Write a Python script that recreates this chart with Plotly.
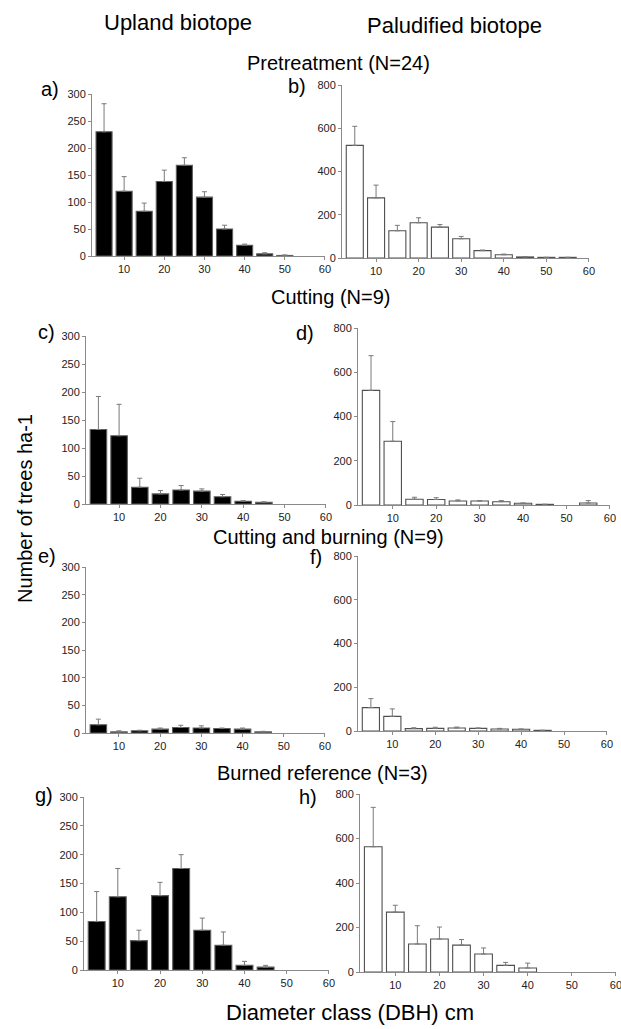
import plotly.graph_objects as go

W, H = 621, 1029

# ---------------- data ----------------
dbh_classes = [5, 10, 15, 20, 25, 30, 35, 40, 45, 50, 55]

upland_pre = [230, 120, 83, 138, 168, 109, 50, 20, 4, 1, 0]
upland_pre_se = [52, 27, 15, 21, 14, 10, 7, 2, 2, 1, 0]
palud_pre = [521, 278, 126, 163, 143, 89, 34, 15, 5, 3, 3]
palud_pre_se = [88, 59, 25, 23, 12, 11, 3, 3, 1, 0, 0]

upland_cut = [133, 122, 30, 18, 25, 23, 13, 5, 3, 0, 0]
upland_cut_se = [59, 56, 16, 6, 8, 4, 4, 1, 1, 0, 0]
palud_cut = [518, 288, 26, 25, 18, 18, 15, 8, 3, 0, 9]
palud_cut_se = [157, 89, 9, 8, 5, 2, 5, 1, 0, 0, 11]

upland_cutburn = [15, 2, 4, 7, 10, 9, 8, 7, 2, 0, 0]
upland_cutburn_se = [10, 2, 1, 2, 4, 4, 1, 2, 1, 0, 0]
palud_cutburn = [107, 67, 11, 12, 14, 12, 9, 8, 3, 0, 0]
palud_cutburn_se = [41, 34, 4, 5, 4, 2, 3, 1, 0, 0, 0]

upland_ref = [84, 127, 51, 129, 176, 69, 43, 8, 5, 0, 0]
upland_ref_se = [52, 49, 18, 23, 24, 21, 23, 7, 3, 0, 0]
palud_ref = [563, 269, 126, 148, 121, 81, 30, 18, 0, 0, 0]
palud_ref_se = [177, 31, 82, 54, 25, 27, 13, 22, 0, 0, 0]

x_ticks = [10, 20, 30, 40, 50, 60]
upland_yticks = [0, 50, 100, 150, 200, 250, 300]
palud_yticks = [0, 200, 400, 600, 800]

# panels: (values, se, upland?, x-pixel domain, y-pixel domain, letter, letter pos)
panels = [
    (upland_pre, upland_pre_se, True, (92, 325), (94, 256), "a)", (50, 89)),
    (palud_pre, palud_pre_se, False, (342, 589), (85, 258), "b)", (297, 86)),
    (upland_cut, upland_cut_se, True, (86, 326), (336, 504), "c)", (46, 332)),
    (palud_cut, palud_cut_se, False, (358, 610), (328, 505), "d)", (305, 333)),
    (upland_cutburn, upland_cutburn_se, True, (86, 325), (567, 733), "e)", (47, 556)),
    (palud_cutburn, palud_cutburn_se, False, (358, 607), (556, 731), "f)", (316, 557)),
    (upland_ref, upland_ref_se, True, (84, 329), (797, 970), "g)", (44, 795)),
    (palud_ref, palud_ref_se, False, (360, 616), (794, 972), "h)", (308, 797)),
]

FONT = "Liberation Sans, Arial, sans-serif"
AXIS_COLOR = "#8a8a8a"
TICK_COLOR = "#222222"


def px_x(x):
    return x / W


def px_y(y):
    return 1 - y / H


fig = go.Figure()
layout = {}
annotations = []

for i, (vals, se, upland, (x0, x1), (y0, y1), letter, (lx, ly)) in enumerate(panels, start=1):
    xa = "x" if i == 1 else f"x{i}"
    ya = "y" if i == 1 else f"y{i}"
    yv = [v if v > 0 else None for v in vals]
    err = [s if v > 0 else None for v, s in zip(vals, se)]
    fig.add_trace(go.Bar(
        x=dbh_classes, y=yv, width=4,
        marker=dict(color="black" if upland else "white",
                    line=dict(color="#606060" if upland else "#505050", width=1.1)),
        error_y=dict(type="data", array=err, arrayminus=[0] * len(vals), symmetric=False,
                     color="#7a7a7a", thickness=1, width=2.5),
        xaxis=xa, yaxis=ya, showlegend=False, hoverinfo="skip",
    ))
    xkey = "xaxis" if i == 1 else f"xaxis{i}"
    ykey = "yaxis" if i == 1 else f"yaxis{i}"
    layout[xkey] = dict(
        domain=[px_x(x0), px_x(x1)], anchor=ya, range=[2, 60.01],
        tickvals=x_ticks, ticks="outside", ticklen=3, tickcolor=AXIS_COLOR,
        showline=True, linecolor=AXIS_COLOR, linewidth=1, showgrid=False, zeroline=False,
        ticklabeloverflow="allow",
        tickfont=dict(family=FONT, size=11, color=TICK_COLOR), fixedrange=True,
    )
    yt = upland_yticks if upland else palud_yticks
    layout[ykey] = dict(
        domain=[px_y(y1), px_y(y0)], anchor=xa, range=[0, yt[-1]],
        tickvals=yt, ticks="outside", ticklen=3, tickcolor=AXIS_COLOR,
        showline=True, linecolor=AXIS_COLOR, linewidth=1, showgrid=False, zeroline=False,
        tickfont=dict(family=FONT, size=11, color=TICK_COLOR), fixedrange=True,
    )
    annotations.append(dict(text=letter, x=px_x(lx), y=px_y(ly), xref="paper", yref="paper",
                            showarrow=False, xanchor="center", yanchor="middle",
                            font=dict(family=FONT, size=20, color="black")))


def text(t, x, y, size, angle=0):
    annotations.append(dict(text=t, x=px_x(x), y=px_y(y), xref="paper", yref="paper",
                            showarrow=False, xanchor="center", yanchor="middle", textangle=angle,
                            font=dict(family=FONT, size=size, color="black")))


text("Upland biotope", 178, 22, 22)
text("Paludified biotope", 454, 25, 22)
text("Pretreatment (N=24)", 338, 63, 20)
text("Cutting (N=9)", 331, 297, 20)
text("Cutting and burning (N=9)", 328, 537, 20)
text("Burned reference (N=3)", 322, 773, 20)
text("Number of trees ha-1", 25, 509, 20, angle=-90)
text("Diameter class (DBH) cm", 350, 1012, 22)

fig.update_layout(
    template="none",
    width=W, height=H, margin=dict(l=0, r=0, t=0, b=0, pad=0),
    paper_bgcolor="white", plot_bgcolor="white",
    barmode="overlay", annotations=annotations, **layout,
)

fig.write_html(
    "out.html",
    config={"displayModeBar": False},
    post_script="document.body.style.margin='0';document.body.style.overflow='hidden';",
)
